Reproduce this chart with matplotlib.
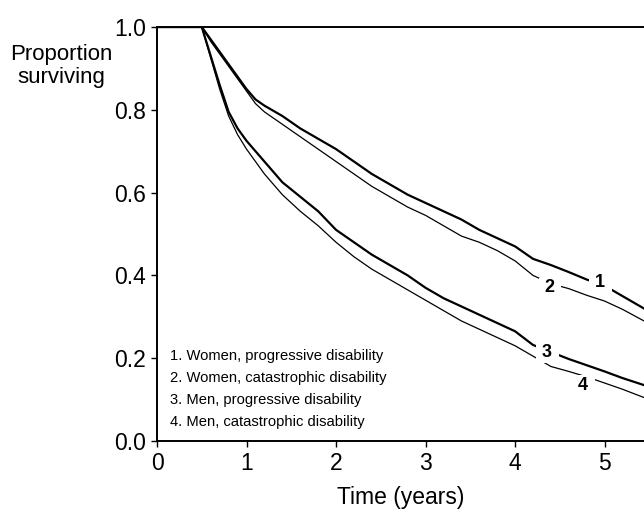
import matplotlib
matplotlib.use("Agg")
import matplotlib.pyplot as plt

# survival curves
years = [0, 0.5, 0.6, 0.7, 0.8, 0.9, 1.0, 1.1, 1.2, 1.4, 1.6, 1.8, 2.0, 2.2, 2.4,
         2.6, 2.8, 3.0, 3.2, 3.4, 3.6, 3.8, 4.0, 4.2, 4.4, 4.6, 4.8, 5.0, 5.2, 5.44]
women_prog = [1.0, 1.0, 0.97, 0.94, 0.91, 0.88, 0.85, 0.825, 0.81, 0.785, 0.755, 0.73,
              0.705, 0.675, 0.645, 0.62, 0.595, 0.575, 0.555, 0.535, 0.51, 0.49, 0.47,
              0.44, 0.425, 0.408, 0.39, 0.375, 0.35, 0.32]
women_cat = [1.0, 1.0, 0.965, 0.935, 0.905, 0.875, 0.845, 0.815, 0.795, 0.765, 0.735,
             0.705, 0.675, 0.645, 0.615, 0.59, 0.565, 0.545, 0.52, 0.495, 0.48, 0.46,
             0.435, 0.40, 0.38, 0.368, 0.352, 0.338, 0.318, 0.29]
men_prog = [1.0, 1.0, 0.93, 0.86, 0.795, 0.755, 0.725, 0.70, 0.675, 0.625, 0.59, 0.555,
            0.51, 0.48, 0.45, 0.425, 0.40, 0.37, 0.345, 0.325, 0.305, 0.285, 0.265,
            0.232, 0.215, 0.198, 0.183, 0.168, 0.152, 0.135]
men_cat = [1.0, 1.0, 0.925, 0.85, 0.785, 0.74, 0.705, 0.675, 0.645, 0.595, 0.555, 0.52,
           0.48, 0.445, 0.415, 0.39, 0.365, 0.34, 0.315, 0.29, 0.27, 0.25, 0.23, 0.205,
           0.18, 0.168, 0.155, 0.14, 0.125, 0.105]

legend_lines = ["1. Women, progressive disability",
                "2. Women, catastrophic disability",
                "3. Men, progressive disability",
                "4. Men, catastrophic disability"]
curve_tags = ["1", "2", "3", "4"]
tag_x = [4.95, 4.39, 4.36, 4.76]
tag_y = [0.384, 0.370, 0.213, 0.135]

plt.rcParams["font.family"] = ["Liberation Sans", "DejaVu Sans"]

fig = plt.figure(figsize=(6.44, 5.17), dpi=100)
ax = fig.add_axes([0.2438, 0.147, 0.7562, 0.8008])

ax.plot(years, women_prog, color="black", lw=1.6)
ax.plot(years, women_cat, color="black", lw=0.9)
ax.plot(years, men_prog, color="black", lw=1.6)
ax.plot(years, men_cat, color="black", lw=0.9)

# the number labels sit in gaps cut out of the curves
for t, x, y in zip(curve_tags, tag_x, tag_y):
    ax.text(x, y, " " + t + " ", fontsize=13, fontweight="bold", ha="center",
            va="center", bbox=dict(facecolor="white", edgecolor="none", pad=1.0),
            zorder=5)

for i, line in enumerate(legend_lines):
    ax.text(0.145, 0.205 - i * 0.053, line, fontsize=10.6, ha="left", va="center")

ax.set_xlim(0, 5.44)
ax.set_ylim(0, 1.0)
ax.set_xticks([0, 1, 2, 3, 4, 5])
ax.set_xticklabels(["0", "1", "2", "3", "4", "5"])
ax.set_yticks([0.0, 0.2, 0.4, 0.6, 0.8, 1.0])
ax.set_yticklabels(["0.0", "0.2", "0.4", "0.6", "0.8", "1.0"])
ax.tick_params(labelsize=16.5, length=4, width=1, pad=4)
ax.spines["right"].set_visible(False)
for s in ["left", "bottom", "top"]:
    ax.spines[s].set_linewidth(1.4)

ax.set_xlabel("Time (years)", fontsize=16.5, labelpad=8)
fig.text(61 / 644, 1 - 66 / 517, "Proportion\nsurviving", fontsize=16,
         ha="center", va="center", linespacing=1.1)

fig.savefig("out.png", dpi=100)
